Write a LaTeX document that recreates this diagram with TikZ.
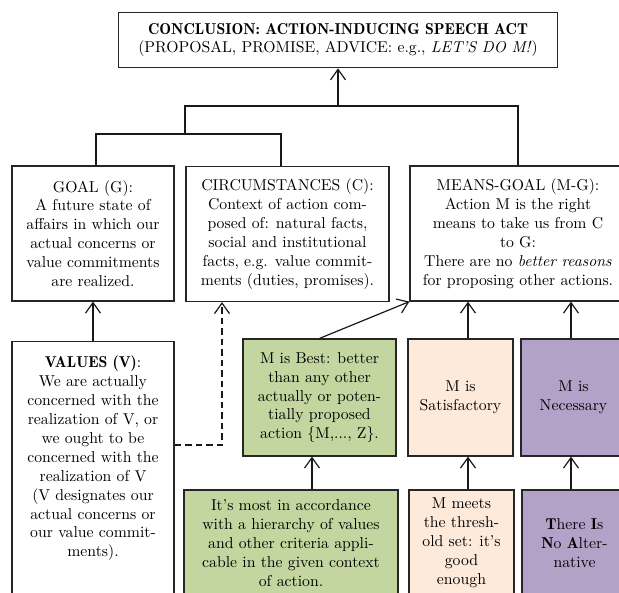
\documentclass[tikz,border=0pt]{standalone}
\usetikzlibrary{arrows.meta}
\definecolor{bestgreen}{RGB}{196,214,159}
\definecolor{satpeach}{RGB}{253,234,219}
\definecolor{necpurple}{RGB}{178,162,199}
\newcommand{\argbf}[1]{{\fontseries{b}\selectfont #1}}
\tikzset{
  argtext/.style={align=center, font=\fontsize{10.5pt}{12.6pt}\selectfont},
  argbox/.style={argtext, rectangle, draw=black!85, line width=0.8pt, inner sep=2pt},
  arr/.style={-{Straight Barb[length=7pt,width=10pt]}, line width=0.8pt, draw=black!90},
  link/.style={line width=0.8pt, draw=black!90},
}
\begin{document}
\begin{tikzpicture}[x=0.66667pt, y=-0.66667pt]
    \useasboundingbox (0,0) rectangle (619,592);
    \clip (0,0) rectangle (619,592);
    % conclusion and premises
    \node[argbox, minimum width=293pt, minimum height=37pt] (concl) at (338,40) {\argbf{CONCLUSION: ACTION-INDUCING SPEECH ACT}\\(PROPOSAL, PROMISE, ADVICE: e.g., \textit{LET'S DO M!})};
    \node[argbox, minimum width=108pt, minimum height=90pt] (goal) at (93,233.5) {GOAL (G):\\A future state of\\affairs in which our\\actual concerns or\\value commitments\\are realized.};
    \node[argbox, minimum width=135.3pt, minimum height=90pt] (circ) at (287.5,234) {CIRCUMSTANCES (C):\\Context of action com-\\posed of: natural facts,\\social and institutional\\facts, e.g. value commit-\\ments (duties, promises).};
    \node[argbox, minimum width=144pt, minimum height=90pt] (mg) at (518,233.5) {MEANS-GOAL (M-G):\\Action M is the right\\means to take us from C\\to G:\\There are no \textit{better reasons}\\for proposing other actions.};
    % values
    \node[argbox, minimum width=108pt, minimum height=186pt, anchor=north] (values) at (93,341) {};
    \node[argtext, anchor=north] (valtext) at ([yshift=-6.5pt]values.north) {\argbf{VALUES (V)}:\\We are actually\\concerned with the\\realization of V, or\\we ought to be\\concerned with the\\realization of V\\(V designates our\\actual concerns or\\our value commit-\\ments).};
    % kinds of means
    \node[argbox, fill=bestgreen, minimum width=102pt, minimum height=78pt] (best) at (319.5,397.5) {M is Best: better\\than any other\\actually or poten-\\tially proposed\\action \{M,..., Z\}.};
    \node[argbox, fill=satpeach, minimum width=70pt, minimum height=78pt] (sat) at (460.5,397.5) {M is\\Satisfactory};
    \node[argbox, fill=necpurple, minimum width=70pt, minimum height=78pt] (nec) at (573.5,397.5) {M is\\Necessary};
    \node[argbox, fill=bestgreen, minimum width=142.7pt, minimum height=70.7pt] (hier) at (291,543) {It's most in accordance\\with a hierarchy of values\\and other criteria appli-\\cable in the given context\\of action.};
    \node[argbox, fill=satpeach, minimum width=70pt, minimum height=70.7pt] (meets) at (461.5,543) {M meets\\the thresh-\\old set: it's\\good\\enough};
    \node[argbox, fill=necpurple, minimum width=70pt, minimum height=70.7pt] (tina) at (574.5,543) {\argbf{T}here \argbf{I}s\\\argbf{N}o \argbf{A}lter-\\native};
    % joints
    \coordinate (gcjoin) at (185,134);
    \coordinate (alljoin) at (338,106);
    \coordinate (dash) at (222,445);
    \coordinate (hierx) at (312,0);
    \coordinate (satx) at (468,0);
    \coordinate (necx) at (571,0);
    \draw[link] ([xshift=2pt]goal.north) |- (gcjoin) -| ([xshift=-4.3pt]circ.north);
    \draw[link] (gcjoin) |- (alljoin) -| (mg.north);
    \draw[arr] (alljoin) -- (concl.south);
    \draw[arr] (values.north) -- (goal.south);
    \draw[arr, dash pattern=on 4.5pt off 2.5pt] (values.east |- dash) -- (dash) -- (dash |- circ.south);
    \draw[arr] (best.north) -- (mg.south west);
    \draw[arr] (sat.north -| satx) -- (mg.south -| satx);
    \draw[arr] (nec.north -| necx) -- (mg.south -| necx);
    \draw[arr] (hier.north -| hierx) -- (best.south -| hierx);
    \draw[arr] (meets.north -| satx) -- (sat.south -| satx);
    \draw[arr] (tina.north -| necx) -- (nec.south -| necx);
\end{tikzpicture}
\end{document}
